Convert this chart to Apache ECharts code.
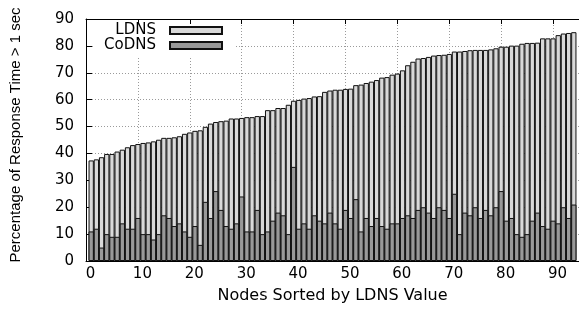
<!DOCTYPE html>
<html>
<head>
<meta charset="utf-8">
<script src="https://cdn.jsdelivr.net/npm/echarts@6/dist/echarts.min.js"></script>
<style>
  html, body { margin: 0; padding: 0; background: #fff; }
  #chart { width: 579px; height: 311px; }
</style>
</head>
<body>
<div id="chart"></div>
<script>
// percentage of lookups slower than 1 sec, nodes 1..94 sorted by LDNS
const seriesNames = ['LDNS', 'CoDNS']
const ldns = [
  37.4, 37.8, 38.6, 39.8, 39.8, 40.7, 41.4, 42.3, 43.1, 43.5,
  43.9, 44.1, 44.5, 45.1, 45.8, 45.8, 46.0, 46.4, 47.3, 47.8,
  48.4, 48.6, 49.9, 51.1, 51.7, 52.0, 52.2, 53.0, 53.0, 53.2,
  53.5, 53.5, 53.9, 53.9, 56.1, 56.1, 56.9, 56.9, 58.1, 59.6,
  59.9, 60.4, 60.6, 61.2, 61.3, 62.9, 63.4, 63.7, 63.7, 64.0,
  64.1, 65.4, 65.6, 66.2, 66.7, 67.3, 68.2, 68.4, 69.3, 69.7,
  70.9, 72.8, 74.1, 75.3, 75.5, 75.9, 76.4, 76.6, 76.7, 77.0,
  77.9, 77.9, 78.1, 78.4, 78.5, 78.5, 78.5, 78.7, 79.1, 79.7,
  79.7, 80.1, 80.1, 80.8, 81.1, 81.1, 81.2, 82.8, 82.8, 82.8,
  84.0, 84.6, 84.8, 85.1
]
const codns = [
  11, 12, 5, 10, 9, 9, 14, 12, 12, 16,
  10, 10, 8, 10, 17, 16, 13, 14, 11, 9,
  13, 6, 22, 16, 26, 19, 13, 12, 14, 24,
  11, 11, 19, 10, 11, 15, 18, 17, 10, 35,
  12, 14, 12, 17, 15, 14, 18, 14, 12, 19,
  16, 23, 11, 16, 13, 16, 13, 12, 14, 14,
  16, 17, 16, 19, 20, 18, 16, 20, 19, 16,
  25, 10, 18, 17, 20, 16, 19, 17, 20, 26,
  15, 16, 10, 9, 10, 15, 18, 13, 12, 15,
  14, 20, 16, 21
]

const font = 'DejaVu Sans'
const gridDot = { color: '#9a9a9a', width: 1, type: [1, 2] }

const chart = echarts.init(document.getElementById('chart'), null, { renderer: 'canvas' })
chart.setOption({
  animation: false,
  backgroundColor: '#fff',
  grid: { left: 86, right: -4, top: 19, bottom: 50 },
  graphic: [{
    // white key box, hides the grid under the legend
    type: 'rect',
    z: 1,
    shape: { x: 93, y: 24, width: 142, height: 32 },
    style: { fill: '#fff' }
  }],
  legend: [
    {
      data: [seriesNames[0]],
      right: 356, top: 23, padding: 0,
      align: 'right', icon: 'rect', itemWidth: 52, itemHeight: 7,
      textStyle: { fontFamily: font, fontSize: 15, color: '#000', padding: [0, 9, 0, 0] }
    },
    {
      data: [seriesNames[1]],
      right: 356, top: 38, padding: 0,
      align: 'right', icon: 'rect', itemWidth: 52, itemHeight: 7,
      textStyle: { fontFamily: font, fontSize: 15, color: '#000', padding: [0, 9, 0, 0] }
    }
  ],
  xAxis: [
    {
      type: 'value', position: 'bottom', min: 0, max: 95, interval: 10,
      name: 'Nodes Sorted by LDNS Value', nameLocation: 'middle', nameGap: 27,
      nameTextStyle: { fontFamily: font, fontSize: 16, color: '#000' },
      axisLine: { lineStyle: { color: '#000', width: 1 } },
      axisTick: { inside: true, length: 5, lineStyle: { color: '#000' } },
      axisLabel: { fontFamily: font, fontSize: 15, color: '#000', margin: 6, padding: [0, 0, 0, 9], showMaxLabel: false },
      splitLine: { show: true, lineStyle: gridDot }
    },
    {
      type: 'value', position: 'top', min: 0, max: 95, interval: 10,
      axisLine: { lineStyle: { color: '#000', width: 1 } },
      axisTick: { inside: true, length: 5, lineStyle: { color: '#000' } },
      axisLabel: { show: false },
      splitLine: { show: false }
    }
  ],
  yAxis: {
    type: 'value', min: 0, max: 90, interval: 10,
    name: 'Percentage of Response Time > 1 sec', nameLocation: 'middle', nameGap: 63,
    nameTextStyle: { fontFamily: 'Liberation Sans', fontSize: 15, color: '#000', padding: [0, 0, 0, 10] },
    axisLine: { show: true, lineStyle: { color: '#000', width: 1 } },
    axisTick: { show: true, inside: true, length: 6, lineStyle: { color: '#000' } },
    axisLabel: { fontFamily: font, fontSize: 15, color: '#000', margin: 12 },
    splitLine: { show: true, lineStyle: gridDot }
  },
  series: [
    {
      name: seriesNames[0], type: 'bar', barWidth: 5.3, barGap: '-100%',
      itemStyle: { color: '#d9d9d9', borderColor: '#111', borderWidth: 1 },
      data: ldns.map((v, i) => [i + 1, v])
    },
    {
      name: seriesNames[1], type: 'bar', barWidth: 5.3, barGap: '-100%',
      itemStyle: { color: '#999999', borderColor: '#111', borderWidth: 1 },
      data: codns.map((v, i) => [i + 1, v])
    }
  ]
})
</script>
</body>
</html>
